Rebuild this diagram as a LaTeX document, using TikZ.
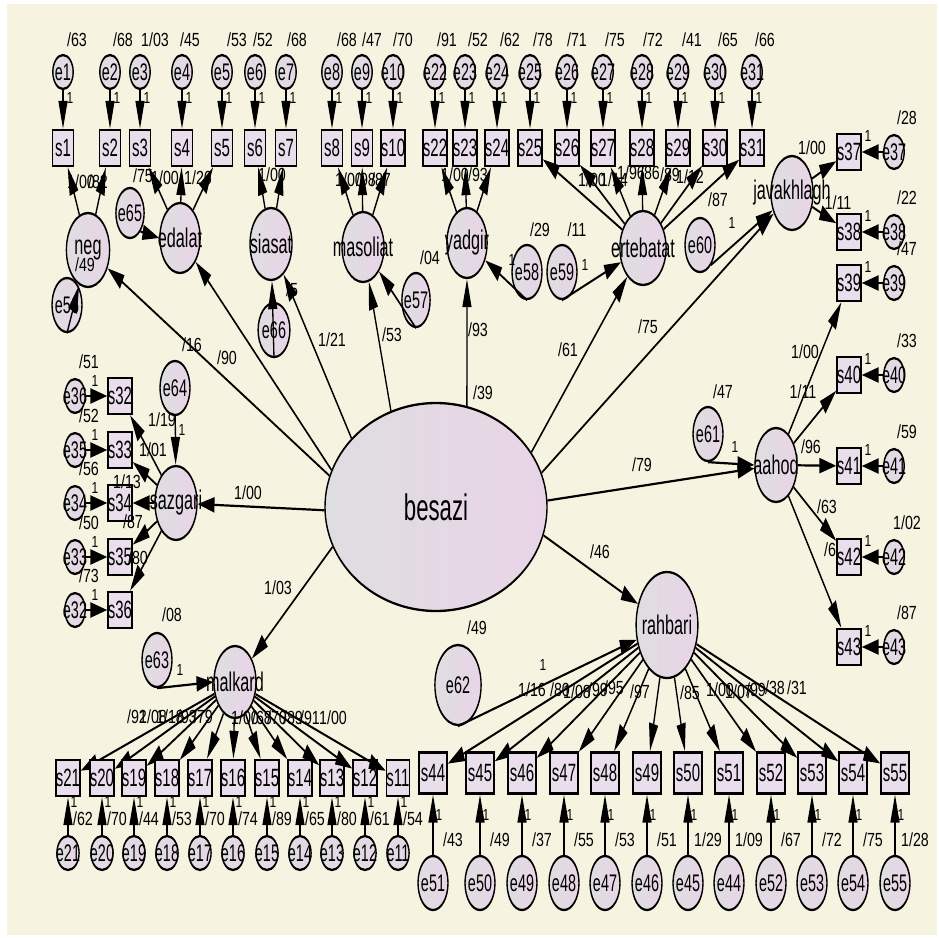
\documentclass[tikz,border=0pt]{standalone}
\usepackage{fontspec}
\setmainfont{Liberation Sans}
\newfontfamily\lblfont[FakeStretch=1.25]{Liberation Sans}
\usetikzlibrary{shapes.geometric,arrows.meta}
\definecolor{bgc}{RGB}{246,244,224}
\definecolor{shL}{RGB}{222,222,224}
\definecolor{shR}{RGB}{233,212,231}
\definecolor{boxf}{RGB}{234,222,236}
\tikzset{
 nd/.style={draw=black, line width=2.3pt, inner sep=0pt},
 lat/.style={nd, ellipse, minimum width=70pt, minimum height=74pt, left color=shL, right color=shR},
 errs/.style={nd, ellipse, minimum width=34pt, minimum height=34pt, left color=shL, right color=shR},
 errb/.style={nd, ellipse, minimum width=50pt, minimum height=54pt, left color=shL, right color=shR},
 obs/.style={nd, rectangle, minimum width=35pt, minimum height=36pt, fill=boxf, font=\fontsize{25}{25}\selectfont},
 obsb/.style={obs, minimum width=47pt, minimum height=41pt},
 arr/.style={-{Triangle[length=28pt,width=15pt]}, line width=2.2pt},
 lb/.style={font=\lblfont\fontsize{19}{19}\selectfont, inner sep=0pt},
 one/.style={font=\lblfont\fontsize{16}{16}\selectfont, inner sep=0pt},
 et/.style={font=\fontsize{24}{24}\selectfont, inner sep=0pt},
 lt/.style={font=\fontsize{27}{27}\selectfont, inner sep=0pt},
}
\begin{document}
\begin{tikzpicture}[x=1pt,y=-1pt]
\useasboundingbox (0,0) rectangle (939,937);
\fill[white] (0,0) rectangle (939,937);
\fill[bgc] (7,4) rectangle (937,935);
\begin{scope}[x=1.6666667pt, y=-1pt, transform canvas={xscale=0.6}]
% latent variables
\node[lat, minimum width=370pt, minimum height=208pt, label={[font=\fontsize{37}{37}\selectfont, inner sep=0pt]center:besazi}] (besazi) at (436,507) {};
\node[lat, minimum width=72pt, label={[lt]center:neg}] (neg) at (88,250) {};
\node[lat, minimum width=67pt, minimum height=70pt, label={[lt]center:edalat}] (edalat) at (180,238) {};
\node[lat, minimum height=72pt, label={[lt]center:siasat}] (siasat) at (271,244) {};
\node[lat, minimum height=70pt, label={[lt]center:masoliat}] (masoliat) at (363,247) {};
\node[lat, minimum width=67pt, minimum height=70pt, label={[lt]center:yadgir}] (yadgir) at (467,243) {};
\node[lat, minimum width=77pt, label={[lt]center:ertebatat}] (ertebatat) at (643,248) {};
\node[lat, label={[lt]center:javakhlagh}] (javakhlagh) at (792,193) {};
\node[lat, label={[lt]center:aahod}] (aahod) at (776,465) {};
\node[lat, label={[lt]center:sazgari}] (sazgari) at (176,503) {};
\node[lat, minimum height=72pt, label={[lt]center:malkard}] (malkard) at (235,682) {};
\node[lat, minimum width=103pt, minimum height=106pt, label={[lt]center:rahbari}] (rahbari) at (667,625) {};
% error terms of latents
\node[errb, label={[et]center:e56}] (e56) at (67,305) {};
\node[errb, minimum width=47pt, minimum height=50pt, label={[et]center:e65}] (e65) at (130,213) {};
\node[errb, minimum width=53pt, label={[et]center:e66}] (e66) at (274,330) {};
\node[errb, minimum width=47pt, label={[et]center:e57}] (e57) at (416,300) {};
\node[errb, label={[et]center:e58}] (e58) at (527,272) {};
\node[errb, label={[et]center:e59}] (e59) at (562,272) {};
\node[errb, label={[et]center:e60}] (e60) at (700,245) {};
\node[errb, label={[et]center:e61}] (e61) at (708,434) {};
\node[errb, minimum width=77pt, minimum height=80pt, label={[et]center:e62}] (e62) at (458,685) {};
\node[errb, label={[et]center:e63}] (e63) at (157,660) {};
\node[errb, label={[et]center:e64}] (e64) at (175,388) {};
% top row
\foreach \n/\x/\vv/\vx in {1/63/{/63}/77, 2/110/{/68}/123, 3/140/{1/03}/155, 4/182/{/45}/190, 5/222/{/53}/237, 6/255/{/52}/263, 7/286/{/68}/297, 8/332/{/68}/347, 9/362/{/47}/372, 10/393/{/70}/403, 22/435/{/91}/447, 23/465/{/52}/478, 24/497/{/62}/510, 25/530/{/78}/543, 26/567/{/71}/577, 27/603/{/75}/615, 28/642/{/72}/653, 29/678/{/41}/692, 30/715/{/65}/728, 31/752/{/66}/765}{
 \node[errs, label={[et]center:e\n}] (e\n) at (\x,72) {};
 \node[obs] (s\n) at (\x,148) {s\n};
 \node[one] (one\n) at (\x+7,98) {1};
 \node[lb] (var\n) at (\vx,40) {\vv};
}
\foreach \n/\lv in {1/neg,2/neg,3/edalat,4/edalat,5/edalat,6/siasat,7/siasat,8/masoliat,9/masoliat,10/masoliat,22/yadgir,23/yadgir,24/yadgir,25/ertebatat,26/ertebatat,27/ertebatat,28/ertebatat,29/ertebatat,30/ertebatat,31/ertebatat}{
 \draw[arr] (e\n) -- (s\n);
 \draw[arr] (\lv) -- (s\n);
}
% left column
\foreach \s/\e/\y/\vv in {32/36/396/{/51}, 33/35/450/{/52}, 34/34/503/{/56}, 35/33/557/{/50}, 36/32/610/{/73}}{
 \node[obs] (s\s) at (120,\y) {s\s};
 \node[errs, label={[et]center:e\e}] (e\e) at (75,\y) {};
 \node[one] (one\s) at (95,\y-15) {1};
 \node[lb] (var\s) at (89,\y-34) {\vv};
 \draw[arr] (e\e) -- (s\s);
 \draw[arr] (sazgari) -- (s\s);
}
% right column
\foreach \s/\y/\vv/\lv in {37/152/{/28}/javakhlagh, 38/232/{/22}/javakhlagh, 39/283/{/47}/aahod, 40/375/{/33}/aahod, 41/466/{/59}/aahod, 42/557/{1/02}/aahod, 43/647/{/87}/aahod}{
 \node[obs] (s\s) at (849,\y) {s\s};
 \node[errs, label={[et]center:e\s}] (e\s) at (894,\y) {};
 \node[one] (one\s) at (868,\y-16) {1};
 \node[lb] (var\s) at (907,\y-34) {\vv};
 \draw[arr] (e\s) -- (s\s);
 \draw[arr] (\lv) -- (s\s);
}
% bottom left row
\foreach \n/\x/\vv in {21/68/{/62}, 20/102/{/70}, 19/134/{/44}, 18/167/{/53}, 17/200/{/70}, 16/233/{/74}, 15/267/{/89}, 14/300/{/65}, 13/332/{/80}, 12/365/{/61}, 11/398/{/54}}{
 \node[obs] (s\n) at (\x,778) {s\n};
 \node[errs, minimum width=37pt, label={[et]center:e\n}] (e\n) at (\x,853) {};
 \node[one] (one\n) at (\x+6,802) {1};
 \node[lb] (var\n) at (\x+15,819) {\vv};
 \draw[arr] (e\n) -- (s\n);
 \draw[arr] (malkard) -- (s\n);
}
% bottom right row
\foreach \s/\e/\x/\vv in {44/51/433/{/43}, 45/50/480/{/49}, 46/49/522/{/37}, 47/48/564/{/55}, 48/47/605/{/53}, 49/46/647/{/51}, 50/45/688/{1/29}, 51/44/729/{1/09}, 52/52/771/{/67}, 53/53/812/{/72}, 54/54/853/{/75}, 55/55/895/{1/28}}{
 \node[obsb] (s\s) at (\x,773) {s\s};
 \node[errb, label={[et]center:e\e}] (e\e) at (\x,883) {};
 \node[one] (one\s) at (\x+6,815) {1};
 \node[lb] (var\s) at (\x+20,840) {\vv};
 \draw[arr] (e\e) -- (s\s);
 \draw[arr] (rahbari) -- (s\s);
}
% structural paths
\draw[arr] (besazi.170) -- (neg);
\draw[arr] (besazi.168) -- (edalat);
\draw[arr] (besazi.154) -- (siasat);
\draw[arr] (besazi.128) -- (masoliat);
\draw[arr] (besazi.63) -- (yadgir);
\draw[arr] (besazi.19) -- (ertebatat);
\draw[arr] (besazi.11) -- (javakhlagh);
\draw[arr] (besazi.2) -- (aahod);
\draw[arr] (besazi.-9) -- (rahbari);
\draw[arr] (besazi.193) -- (malkard);
\draw[arr] (besazi.181) -- (sazgari);
% disturbances
\draw[arr] (e56.south) -- (neg);
\draw[arr] (e65.south east) -- (edalat.west);
\draw[arr] (e66.south) -- (siasat);
\draw[arr] (e57.south) -- (masoliat);
\draw[arr] (e58.south) -- (yadgir);
\draw[arr] (e59.south) -- (ertebatat);
\draw[arr] (e60.south east) -- (javakhlagh);
\draw[arr] (e61.south) -- (aahod.west);
\draw[arr] (e62.south) -- (rahbari);
\draw[arr] (e63.south) -- (malkard.west);
\draw[arr] (e64) -- (sazgari);
% estimate labels
\foreach \x/\y/\t [count=\i] in {81/182/{1/00}, 98/182/{/82}, 143/176/{/75}, 165/178/{1/00}, 198/178/{1/26}, 272/175/{1/00}, 349/180/{1/00}, 366/180/{/98}, 381/180/{/87}, 455/175/{1/00}, 478/175/{/93}, 592/180/{1/00}, 614/180/{1/14}, 631/173/{1/96}, 650/173/{/86}, 670/175/{/89}, 690/177/{1/12}, 812/148/{1/00}, 838/203/{1/11}, 805/352/{1/00}, 803/392/{1/11}, 811/447/{/96}, 827/507/{/63}, 830/550/{/6}, 162/420/{1/19}, 153/450/{1/01}, 127/482/{1/13}, 133/522/{/87}, 138/558/{/80}, 137/717/{/92}, 153/717/{1/08}, 170/717/{1/18}, 187/717/{/93}, 203/717/{/79}, 245/718/{1/00}, 262/718/{/68}, 277/718/{/70}, 293/718/{/89}, 310/718/{/91}, 333/718/{1/00}, 532/690/{1/16}, 560/690/{/80}, 577/692/{1/08}, 598/690/{/99}, 614/688/{/95}, 640/692/{/97}, 690/693/{/85}, 720/690/{1/00}, 739/692/{1/07}, 756/690/{/99}, 775/688/{/38}, 797/688/{/31}, 192/345/{/16}, 227/358/{/90}, 292/290/{/5}, 332/340/{1/21}, 392/335/{/53}, 478/330/{/93}, 483/393/{/39}, 430/258/{/04}, 540/230/{/29}, 577/230/{/11}, 568/350/{/61}, 648/327/{/75}, 718/200/{/87}, 642/465/{/79}, 723/392/{/47}, 248/493/{1/00}, 278/588/{1/03}, 600/552/{/46}, 172/615/{/08}, 477/628/{/49}, 85/265/{/49}}{
 \node[lb] (L\i) at (\x,\y) {\t};
}
\foreach \x/\y [count=\i] in {585/265, 512/260, 732/223, 735/447, 180/670, 543/665, 182/430}{
 \node[one] (O\i) at (\x,\y) {1};
}
\end{scope}
\end{tikzpicture}
\end{document}
